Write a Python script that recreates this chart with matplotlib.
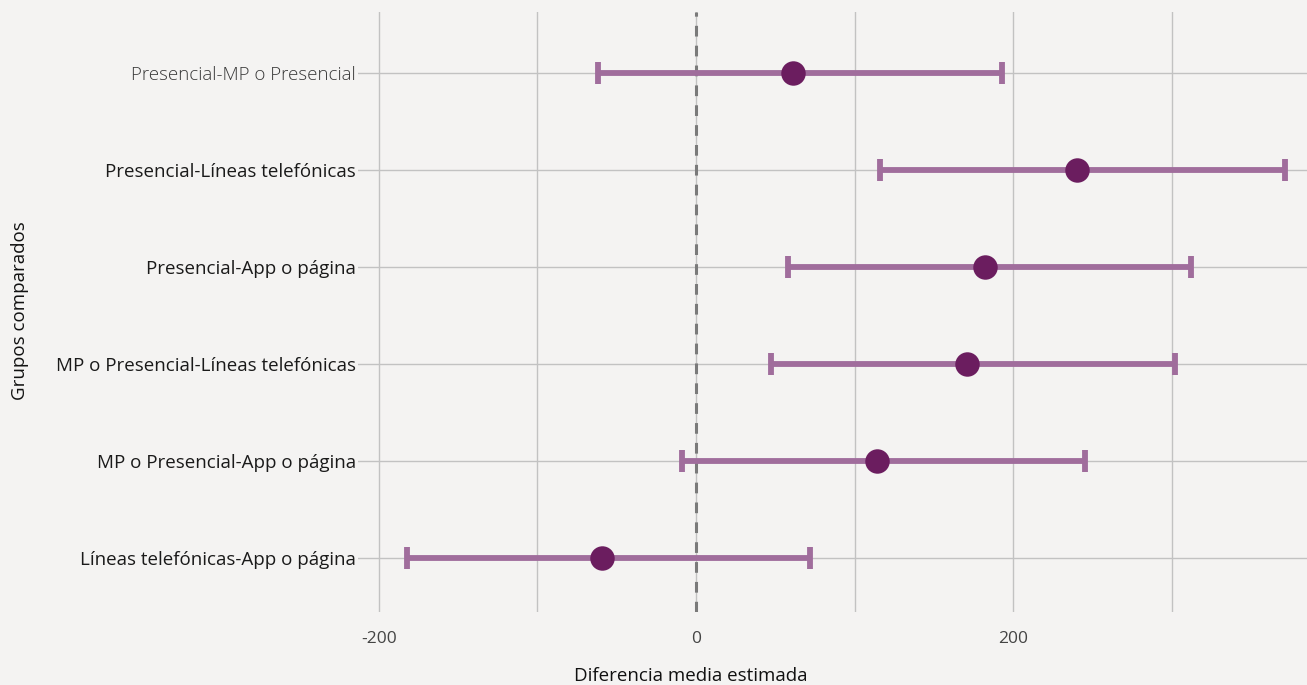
import matplotlib.pyplot as plt
import numpy as np

plt.rcParams['font.family'] = ['Open Sans', 'DejaVu Sans']

grupos = [
    'Presencial-MP o Presencial',
    'Presencial-Líneas telefónicas',
    'Presencial-App o página',
    'MP o Presencial-Líneas telefónicas',
    'MP o Presencial-App o página',
    'Líneas telefónicas-App o página',
]
diferencia = [61, 240, 182, 171, 114, -59]
ic_inf = [-62, 116, 58, 47, -9, -182]
ic_sup = [193, 371, 312, 302, 245, 72]

bg = '#f4f3f2'
fig = plt.figure(figsize=(13.07, 6.85), dpi=100, facecolor=bg)
ax = fig.add_axes([0.274, 0.1066, 0.726, 0.876], facecolor=bg)

y = np.arange(len(grupos))
err = [np.array(diferencia) - np.array(ic_inf), np.array(ic_sup) - np.array(diferencia)]

ax.axvline(0, color='#7a7a7a', lw=2.2, ls=(0, (3.5, 3)), zorder=2)
ax.errorbar(diferencia, y, xerr=err, fmt='none', ecolor='#a06d9c', elinewidth=4.2,
            capsize=8, capthick=4.2, zorder=3)
ax.scatter(diferencia, y, s=310, color='#6b1d5f', zorder=4, linewidths=0)

ax.set_xlim(-213, 385)
ax.set_ylim(5.557, -0.63)
ax.set_xticks([-200, -100, 0, 100, 200, 300])
ax.set_xticklabels(['-200', '', '0', '', '200', ''])
ax.set_yticks(y)
ax.set_yticklabels(grupos)
ax.grid(True, color='#c2c2c2', lw=1.0, zorder=1)
ax.set_axisbelow(True)
for s in ax.spines.values():
    s.set_visible(False)
ax.tick_params(axis='x', length=0, labelsize=12.5, labelcolor='#444444', pad=14)
ax.tick_params(axis='y', length=0, labelsize=13.5, labelcolor='#1a1a1a', pad=1.5)
ax.get_yticklabels()[0].set_color('#3a3a3a')
ax.get_yticklabels()[0].set_fontweight('light')

fig.text(691 / 1307, 1 - 676 / 685, 'Diferencia media estimada', fontsize=13.5,
         color='#111111', ha='center', va='center')
fig.text(20 / 1307, 1 - 311 / 685, 'Grupos comparados', fontsize=13.5,
         color='#111111', ha='center', va='center', rotation=90)

fig.savefig('out.png', dpi=100, facecolor=bg)
